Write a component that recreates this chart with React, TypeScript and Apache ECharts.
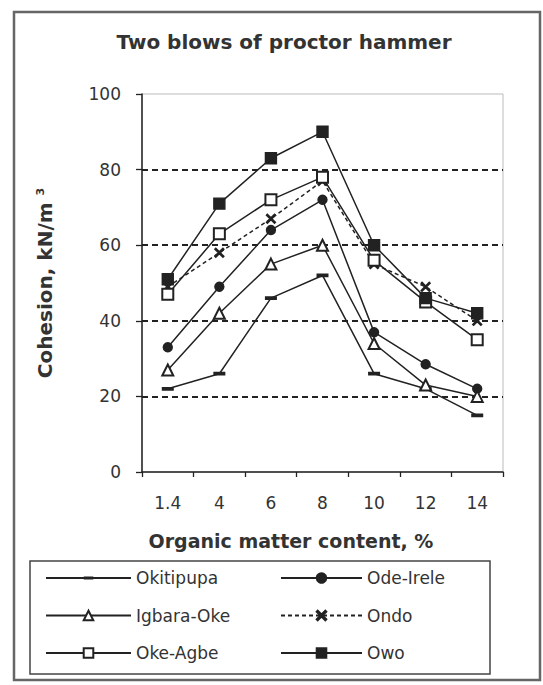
import React, { useEffect, useRef } from "react";
import * as echarts from "echarts";

// Organic matter content, % (category axis)
const categories = ["1.4", "4", "6", "8", "10", "12", "14"];

// Cohesion, kN/m3 for each site
const okitipupa = [22, 26, 46, 52, 26, 22, 15];
const odeIrele = [33, 49, 64, 72, 37, 28.5, 22];
const igbaraOke = [27, 42, 55, 60, 34, 23, 20];
const ondo = [49, 58, 67, 77, 55, 49, 40];
const okeAgbe = [47, 63, 72, 78, 56, 45, 35];
const owo = [51, 71, 83, 90, 60, 46, 42];

const yTicks = [0, 20, 40, 60, 80, 100];
const guideLevels = [20, 40, 60, 80];

const INK = "#222";
const TEXT = "#333";
const FONT = "DejaVu Sans";

// Short horizontal bar inside a square box (the two tiny corner specks keep the box square)
const dashSymbol =
  "path://M0,0L0.01,0L0,0.01Z M12,12L11.99,12L12,11.99Z M0,4.1H12V7.9H0Z";
const crossSymbol =
  "path://M0,1L1,0L5,4L9,0L10,1L6,5L10,9L9,10L5,6L1,10L0,9L4,5Z";

export default function App() {
  const ref = useRef<HTMLDivElement>(null);

  useEffect(() => {
    if (!ref.current) return;
    const chart = echarts.init(ref.current, undefined, { renderer: "svg" });

    const baseLine = (
      name: string,
      data: number[],
      symbol: string,
      size: any,
      dashed = false,
      border = 1.4
    ) => ({
      name,
      type: "line",
      data,
      symbol,
      symbolSize: size,
      showAllSymbol: true,
      lineStyle: { color: INK, width: 1.5, type: dashed ? [4, 3] : "solid" },
      itemStyle: { color: INK, borderColor: INK, borderWidth: border },
      emphasis: { disabled: true },
      z: 3,
    });

    const series: any[] = [
      {
        ...baseLine("Okitipupa", okitipupa, dashSymbol, 12, false, 0),
        markLine: {
          silent: true,
          symbol: ["none", "none"],
          label: { show: false },
          lineStyle: { color: "#222", width: 1.8, type: [6, 4] },
          data: guideLevels.map((v) => ({ yAxis: v })),
          z: 1,
        },
      },
      baseLine("Ode-Irele", odeIrele, "circle", 9),
      baseLine("Igbara-Oke", igbaraOke, "emptyTriangle", 11),
      baseLine("Ondo", ondo, crossSymbol, 9, true),
      baseLine("Oke-Agbe", okeAgbe, "emptyRect", 11),
      baseLine("Owo", owo, "rect", 11),
    ];

    const legendCommon = {
      orient: "vertical",
      top: 568,
      padding: 0,
      itemHeight: 12,
      itemGap: 17.5,
      selectedMode: false,
      textStyle: { color: TEXT, fontFamily: FONT, fontSize: 17, lineHeight: 20 },
    };

    chart.setOption({
      animation: false,
      backgroundColor: "#fff",
      grid: {
        left: 142,
        top: 94,
        right: 40,
        bottom: 213,
        show: true,
        borderColor: "#bbb",
        borderWidth: 1,
        backgroundColor: "transparent",
      },
      xAxis: {
        type: "category",
        data: categories,
        boundaryGap: true,
        axisLine: { lineStyle: { color: INK, width: 1.5 } },
        axisTick: { show: true, length: 5, interval: 0, lineStyle: { color: INK, width: 1.3 } },
        axisLabel: { color: TEXT, fontFamily: FONT, fontSize: 17, margin: 22, interval: 0 },
        splitLine: { show: false },
      },
      yAxis: {
        type: "value",
        min: yTicks[0],
        max: yTicks[yTicks.length - 1],
        interval: 20,
        axisLine: { show: true, lineStyle: { color: INK, width: 1.5 } },
        axisTick: { show: true, length: 6, lineStyle: { color: INK, width: 1.3 } },
        axisLabel: { color: TEXT, fontFamily: FONT, fontSize: 17, margin: 21 },
        splitLine: { show: false },
      },
      legend: [
        {
          ...legendCommon,
          left: 45,
          itemWidth: 85,
          data: ["Okitipupa", "Igbara-Oke", "Oke-Agbe"],
        },
        {
          ...legendCommon,
          left: 280,
          itemWidth: 81,
          data: ["Ode-Irele", "Ondo", "Owo"],
        },
      ],
      graphic: [
        {
          type: "rect",
          shape: { x: 14, y: 12, width: 526, height: 668 },
          style: { fill: "none", stroke: "#666", lineWidth: 2.5 },
          silent: true,
          z: 0,
        },
        {
          type: "rect",
          shape: { x: 30, y: 561, width: 460, height: 113 },
          style: { fill: "none", stroke: "#444", lineWidth: 1.5 },
          silent: true,
        },
        {
          type: "text",
          x: 284,
          y: 42,
          style: {
            text: "Two blows of proctor hammer",
            fill: TEXT,
            font: `bold 20px "${FONT}"`,
            align: "center",
            verticalAlign: "middle",
          },
          silent: true,
        },
        {
          type: "text",
          x: 291,
          y: 541,
          style: {
            text: "Organic matter content, %",
            fill: TEXT,
            font: `bold 19px "${FONT}"`,
            align: "center",
            verticalAlign: "middle",
          },
          silent: true,
        },
        {
          type: "text",
          x: 45,
          y: 283,
          rotation: Math.PI / 2,
          style: {
            text: "Cohesion, kN/m {sup|3}",
            fill: TEXT,
            font: `bold 20px "${FONT}"`,
            align: "center",
            verticalAlign: "middle",
            rich: {
              sup: {
                fontFamily: FONT,
                fontWeight: "bold",
                fontSize: 11,
                verticalAlign: "top",
                fill: TEXT,
              },
            },
          },
          silent: true,
        },
      ],
      series,
    });

    return () => chart.dispose();
  }, []);

  return (
    <div
      ref={ref}
      style={{ position: "fixed", left: 0, top: 0, width: 543, height: 685 }}
    />
  );
}
